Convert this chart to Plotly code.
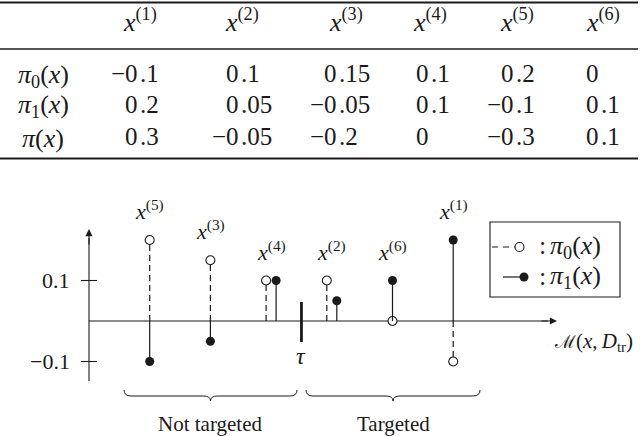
import plotly.graph_objects as go

# ---------------- data ----------------
point_names = ["(1)", "(2)", "(3)", "(4)", "(5)", "(6)"]
pi0_values = [-0.1, 0.1, 0.15, 0.1, 0.2, 0]
pi1_values = [0.2, 0.05, -0.05, 0.1, -0.1, 0.1]
pi_values = [0.3, -0.05, -0.2, 0, -0.3, 0.1]
m_scores = [6, 4, 2, 3, 1, 5]          # position of each point along M(x, D_tr)
tau_score = 3.5
y_tick_values = [-0.1, 0.1]
row_labels = ["<i>π</i><sub>0</sub>(<i>x</i>)",
              "<i>π</i><sub>1</sub>(<i>x</i>)",
              "<i>π</i>(<i>x</i>)"]
group_labels = ["Not targeted", "Targeted"]
legend_labels = ["<i>π</i><sub>0</sub>(<i>x</i>)", "<i>π</i><sub>1</sub>(<i>x</i>)"]
axis_label = ("<span style='font-size:18px'>ℳ</span>(<i>x</i>,\u2009<i>D</i>"
              "<sub>tr</sub>)")

# ---------------- layout helpers ----------------
W, H = 640, 436
FONT = "Liberation Serif, DejaVu Serif, serif"
INK = "#1a1a1a"
X0_PX, PX_PER_UNIT = 89, 60.7
Y0_PX, PX_PER_Y = 321, 405


def px2x(px):
    return (px - X0_PX) / PX_PER_UNIT


def py2y(py):
    return (Y0_PX - py) / PX_PER_Y


def fx(px):
    return px / W


def fy(py):
    return 1 - py / H


def fmt(v):
    s = f"{v:g}".replace("-", "−")
    if "." in s:
        a, b = s.split(".")
        return a, "." + b
    return s, ""


def text(x, y, t, size, xanchor="center", yanchor="middle", ref="paper", **kw):
    return dict(xref=ref if ref == "paper" else "x", yref=ref if ref == "paper" else "y",
                x=x, y=y, text=t, showarrow=False, xanchor=xanchor, yanchor=yanchor,
                borderpad=0, font=dict(family=FONT, size=size, color=INK), **kw)


fig = go.Figure()

# ---------------- stems ----------------
dodge = 5 / PX_PER_UNIT
x_open, x_fill = [], []
for m, a, b in zip(m_scores, pi0_values, pi1_values):
    if a * b > 0:
        x_open.append(m - dodge)
        x_fill.append(m + dodge)
    else:
        x_open.append(m)
        x_fill.append(m)


def stems(xs, ys):
    sx, sy = [], []
    for x, y in zip(xs, ys):
        sx += [x, x, None]
        sy += [0, y, None]
    return sx, sy


sx, sy = stems(x_open, pi0_values)
fig.add_trace(go.Scatter(x=sx, y=sy, mode="lines",
                         line=dict(color=INK, width=1.2, dash="6px,4px"),
                         hoverinfo="skip", showlegend=False))
fig.add_trace(go.Scatter(x=x_open, y=pi0_values, mode="markers",
                         marker=dict(symbol="circle", size=9, color="white",
                                     line=dict(color=INK, width=1.1)),
                         showlegend=False))
sx, sy = stems(x_fill, pi1_values)
fig.add_trace(go.Scatter(x=sx, y=sy, mode="lines",
                         line=dict(color=INK, width=1.2),
                         hoverinfo="skip", showlegend=False))
fig.add_trace(go.Scatter(x=x_fill, y=pi1_values, mode="markers",
                         marker=dict(symbol="circle", size=9, color=INK,
                                     line=dict(color=INK, width=0)),
                         showlegend=False))

shapes = []
ann = []

# axes
shapes.append(dict(type="line", xref="x", yref="y", x0=0, x1=px2x(548),
                   y0=0, y1=0, line=dict(color=INK, width=1.1), layer="below"))
shapes.append(dict(type="line", xref="x", yref="y", x0=0, x1=0,
                   y0=py2y(381), y1=py2y(238), line=dict(color=INK, width=1.1), layer="below"))
ann.append(dict(xref="x", yref="y", axref="x", ayref="y", x=px2x(557), y=0,
                ax=px2x(540), ay=0, text="", showarrow=True, arrowhead=2,
                arrowsize=1.3, arrowwidth=1.1, arrowcolor=INK, standoff=0))
ann.append(dict(xref="x", yref="y", axref="x", ayref="y", x=0, y=py2y(229),
                ax=0, ay=py2y(246), text="", showarrow=True, arrowhead=2,
                arrowsize=1.3, arrowwidth=1.1, arrowcolor=INK, standoff=0))
for t in y_tick_values:
    shapes.append(dict(type="line", xref="x", yref="y", x0=px2x(81), x1=px2x(97),
                       y0=t, y1=t, line=dict(color=INK, width=1.1)))
    ann.append(text(px2x(71), t, f"{t:g}".replace("-", "−"), 22,
                    xanchor="right", ref="data"))

# tau
shapes.append(dict(type="line", xref="x", yref="y", x0=tau_score, x1=tau_score,
                   y0=py2y(302), y1=py2y(342), line=dict(color=INK, width=2.8)))
ann.append(text(tau_score, py2y(356), "<i>τ</i>", 24, ref="data"))

# axis label
ann.append(text(px2x(553), py2y(342), axis_label, 21, xanchor="left", ref="data"))

# stem labels
for name, m, a, b in zip(point_names, m_scores, pi0_values, pi1_values):
    ann.append(text(m, max(a, b, 0), f"<i>x</i><sup>{name}</sup>", 22,
                    ref="data", yshift=30))


# braces
def brace(x0p, x1p, ytop=390, ymid=396, ybot=401, r=7):
    xc = (x0p + x1p) / 2
    pts = [
        f"M {fx(x0p)},{fy(ytop)}",
        f"Q {fx(x0p)},{fy(ymid)} {fx(x0p + r)},{fy(ymid)}",
        f"L {fx(xc - r)},{fy(ymid)}",
        f"Q {fx(xc)},{fy(ymid)} {fx(xc)},{fy(ybot)}",
        f"Q {fx(xc)},{fy(ymid)} {fx(xc + r)},{fy(ymid)}",
        f"L {fx(x1p - r)},{fy(ymid)}",
        f"Q {fx(x1p)},{fy(ymid)} {fx(x1p)},{fy(ytop)}",
    ]
    return dict(type="path", xref="paper", yref="paper", path=" ".join(pts),
                line=dict(color=INK, width=1.0))


shapes.append(brace(124, 297))
shapes.append(brace(306, 480))
for label, cx in zip(group_labels, [210, 393]):
    ann.append(text(fx(cx), fy(424), label, 21))

# legend box
shapes.append(dict(type="rect", xref="paper", yref="paper", x0=fx(490), x1=fx(620),
                   y0=fy(222), y1=fy(297), line=dict(color=INK, width=1.1)))
shapes.append(dict(type="line", xref="paper", yref="paper", x0=fx(492), x1=fx(515),
                   y0=fy(247), y1=fy(247), line=dict(color=INK, width=1.2, dash="6px,5px")))
shapes.append(dict(type="circle", xref="paper", yref="paper", x0=fx(515), x1=fx(524),
                   y0=fy(251.5), y1=fy(242.5), fillcolor="white",
                   line=dict(color=INK, width=1.1)))
shapes.append(dict(type="line", xref="paper", yref="paper", x0=fx(503), x1=fx(521),
                   y0=fy(277), y1=fy(277), line=dict(color=INK, width=1.2)))
shapes.append(dict(type="circle", xref="paper", yref="paper", x0=fx(519.5), x1=fx(528.5),
                   y0=fy(281.5), y1=fy(272.5), fillcolor=INK,
                   line=dict(color=INK, width=0)))
for label, py in zip(legend_labels, [247, 277]):
    ann.append(text(fx(542), fy(py - 1), ":", 26))
    ann.append(text(fx(549), fy(py), label, 26, xanchor="left"))

# ---------------- table ----------------
col_dec_px = [139, 240, 338, 430, 515, 600]
header_px = [140, 242, 346, 430, 517, 603]
header_py = 21
row_py = [74, 104, 136]
label_px = 43

for px, name in zip(header_px, point_names):
    ann.append(text(fx(px), fy(header_py), f"<i>x</i><sup>{name}</sup>", 26))

for py, label, row in zip(row_py, row_labels, [pi0_values, pi1_values, pi_values]):
    ann.append(text(fx(label_px), fy(py + 2), label, 26))
    for px, v in zip(col_dec_px, row):
        a, b = fmt(v)
        ann.append(text(fx(px), fy(py), a, 25, xanchor="right"))
        if b:
            ann.append(text(fx(px), fy(py), b, 25, xanchor="left"))

for py, w in [(2.5, 2.2), (49, 1.3), (158.5, 2.2)]:
    shapes.append(dict(type="line", xref="paper", yref="paper", x0=0, x1=fx(638),
                       y0=fy(py), y1=fy(py), line=dict(color=INK, width=w)))

fig.update_layout(
    width=W, height=H, margin=dict(l=0, r=0, t=0, b=0),
    paper_bgcolor="white", plot_bgcolor="white",
    xaxis=dict(range=[px2x(0), px2x(W)], visible=False, domain=[0, 1], fixedrange=True),
    yaxis=dict(range=[py2y(H), py2y(0)], visible=False, domain=[0, 1], fixedrange=True),
    shapes=shapes, annotations=ann, showlegend=False,
)

fig.write_html("out.html", config={"displayModeBar": False, "staticPlot": True},
               post_script="document.body.style.margin='0';")
